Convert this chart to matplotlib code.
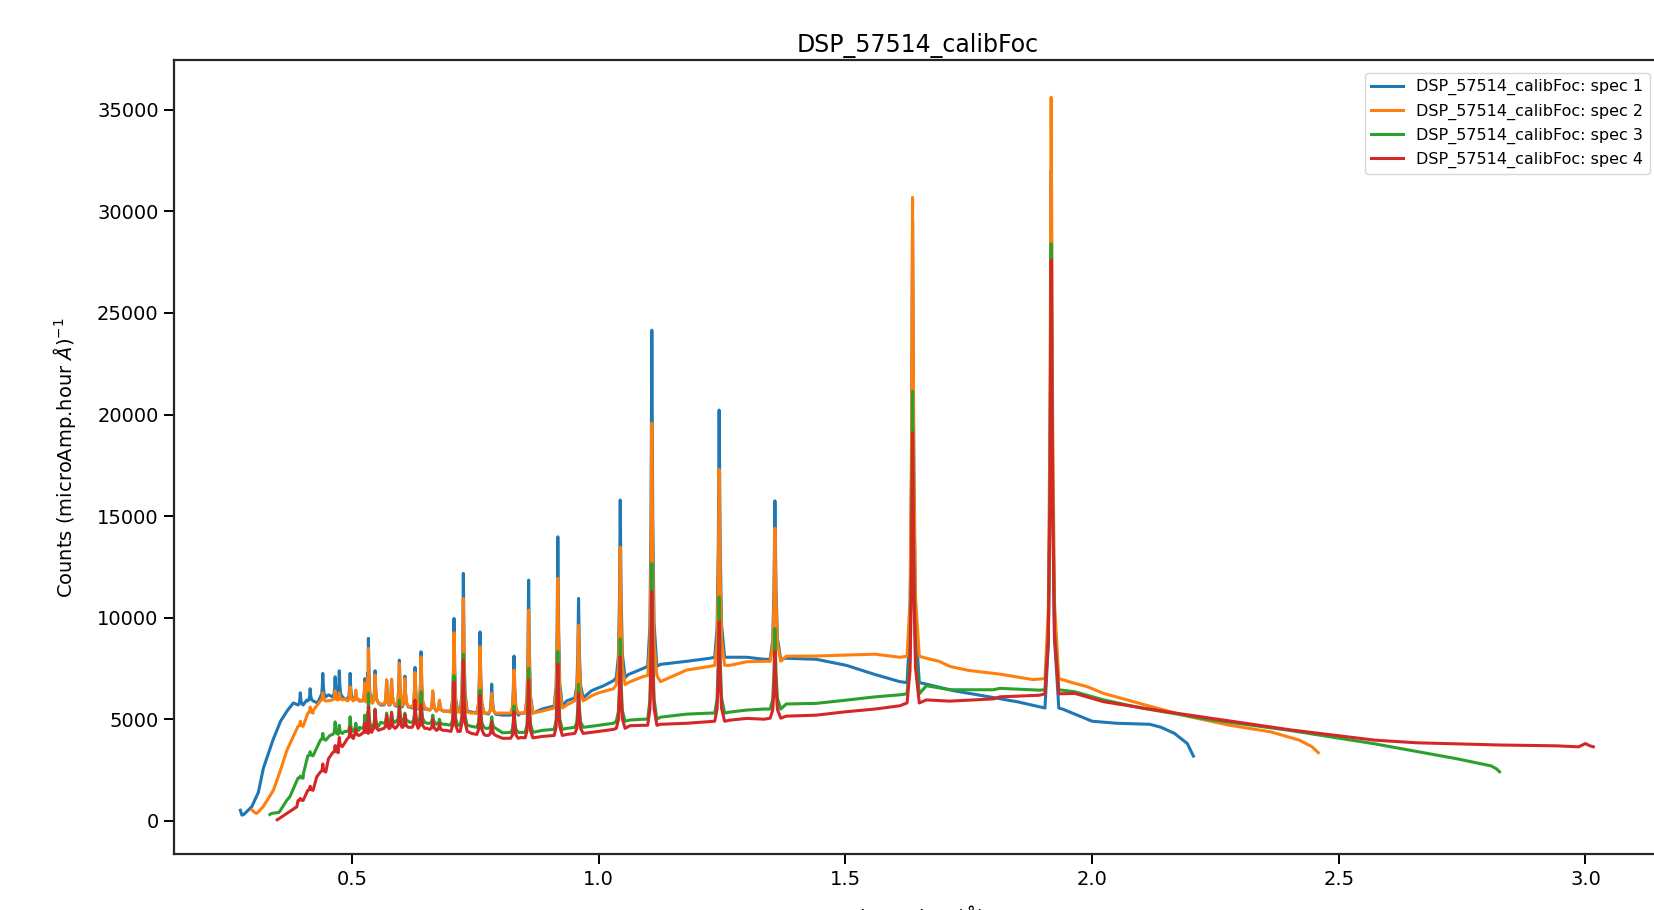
import numpy as np
import matplotlib
matplotlib.use("Agg")
import matplotlib.pyplot as plt

plt.rcParams['font.family'] = ['DejaVu Sans']
plt.rcParams['axes.linewidth'] = 1.6
plt.rcParams['axes.edgecolor'] = '.15'
plt.rcParams['xtick.major.size'] = 7.5
plt.rcParams['ytick.major.size'] = 7.5
plt.rcParams['xtick.major.width'] = 1.4
plt.rcParams['ytick.major.width'] = 1.4

# ---------------------- data ----------------------
title = "DSP_57514_calibFoc"
labels = ["DSP_57514_calibFoc: spec 1", "DSP_57514_calibFoc: spec 2",
          "DSP_57514_calibFoc: spec 3", "DSP_57514_calibFoc: spec 4"]
colors = ["#1f77b4", "#ff7f0e", "#2ca02c", "#d62728"]

# Bragg peak positions (d-spacing, Angstrom), shared by all banks
peak_d = [0.395, 0.415, 0.4406, 0.4656, 0.474, 0.496, 0.5075, 0.526, 0.533, 0.5466,
          0.570, 0.580, 0.5958, 0.607, 0.6276, 0.6398, 0.6635, 0.677, 0.7066, 0.7255,
          0.7593, 0.783, 0.8282, 0.8578, 0.9170, 0.9590, 1.0435, 1.1075, 1.2440, 1.3570,
          1.6360, 1.9170]

# spec 1 (blue)
bg1_x = [0.2735, 0.2766, 0.280, 0.2968, 0.31, 0.3203, 0.34, 0.355, 0.368, 0.381,
         0.408, 0.43, 0.452, 0.485, 0.515, 0.54, 0.558, 0.588, 0.617, 0.652, 0.69,
         0.716, 0.742, 0.771, 0.805, 0.842, 0.885, 0.935, 0.985, 1.01, 1.03, 1.06,
         1.09, 1.125, 1.178, 1.225, 1.265, 1.30, 1.335, 1.38, 1.441, 1.502, 1.56,
         1.61, 1.66, 1.72, 1.78, 1.85, 1.895, 1.94, 1.965, 2.00, 2.05, 2.117, 2.14,
         2.167, 2.193, 2.2053]
bg1_y = [520, 280, 300, 700, 1400, 2600, 4000, 4900, 5400, 5800,
         5940, 5800, 6200, 6000, 5900, 5800, 5700, 5650, 5600, 5500, 5400,
         5400, 5350, 5300, 5200, 5300, 5500, 5900, 6400, 6650, 6900, 7200,
         7500, 7700, 7850, 8000, 8050, 8050, 7950, 8000, 7950, 7650, 7200,
         6850, 6750, 6400, 6150, 5850, 5600, 5500, 5250, 4900, 4800, 4750, 4600,
         4300, 3800, 3185]
base1 = [5700, 5900, 6100, 6100, 6100, 6000, 5950, 5900, 5900, 5800,
         5700, 5700, 5650, 5600, 5550, 5500, 5450, 5400, 5400, 5400,
         5300, 5250, 5200, 5300, 5650, 6050, 7050, 7600, 8050, 7950,
         6800, 5550]
top1 = [6300, 6500, 7256, 7090, 7385, 7256, 6300, 7000, 8980, 7385,
        6930, 6960, 7910, 7120, 7550, 8320, 6300, 5900, 9960, 12180,
        9300, 6730, 8110, 11850, 13980, 10950, 15790, 24150, 20220, 15750,
        29500, 32000]

# spec 2 (orange)
bg2_x = [0.297, 0.303, 0.307, 0.32, 0.3406, 0.355, 0.368, 0.3946, 0.4216, 0.45,
         0.485, 0.515, 0.54, 0.558, 0.588, 0.617, 0.652, 0.69, 0.716, 0.742, 0.771,
         0.805, 0.842, 0.885, 0.935, 0.985, 1.00, 1.03, 1.063, 1.09, 1.125, 1.178,
         1.225, 1.265, 1.30, 1.335, 1.38, 1.441, 1.502, 1.56, 1.61, 1.625,
         1.664, 1.69, 1.7115, 1.75, 1.8128, 1.88, 1.905, 1.96, 1.99, 2.0235, 2.108,
         2.1926, 2.277, 2.3615, 2.42, 2.446, 2.4585]
bg2_y = [530, 400, 364, 700, 1510, 2500, 3480, 4630, 5450, 5900,
         6000, 5950, 5800, 5750, 5700, 5600, 5500, 5400, 5350, 5300, 5300,
         5300, 5300, 5400, 5700, 6150, 6300, 6500, 6840, 7100, 6850, 7420,
         7600, 7650, 7830, 7850, 8100, 8110, 8160, 8200, 8050, 8100,
         8000, 7850, 7600, 7400, 7220, 6950, 7000, 6800, 6600, 6270, 5700,
         5150, 4710, 4380, 3970, 3640, 3350]
base2 = [4650, 5300, 5900, 5950, 5950, 5900, 5900, 5900, 5850, 5800,
         5750, 5700, 5700, 5650, 5600, 5550, 5450, 5400, 5350, 5350,
         5300, 5300, 5300, 5300, 5550, 5900, 6700, 7150, 7650, 7850,
         8100, 7000]
top2 = [4900, 5600, 6300, 6400, 6300, 6600, 6430, 6800, 8490, 7170,
        6930, 6960, 7750, 7000, 7300, 8070, 6400, 5940, 9260, 10950,
        8570, 6270, 7420, 10370, 11930, 9620, 13460, 19570, 17300, 14390,
        30690, 35620]

# spec 3 (green)
bg3_x = [0.3333, 0.3373, 0.352, 0.368, 0.374, 0.4014, 0.42, 0.442, 0.455, 0.485,
         0.515, 0.54, 0.558, 0.588, 0.617, 0.652, 0.69, 0.716, 0.742, 0.771, 0.805,
         0.842, 0.885, 0.935, 0.985, 1.00, 1.03, 1.063, 1.09, 1.125, 1.178, 1.225,
         1.265, 1.30, 1.335, 1.38, 1.441, 1.502, 1.56, 1.61, 1.625, 1.664, 1.7115,
         1.80, 1.8128, 1.893, 1.905, 1.965, 2.0235, 2.10, 2.234, 2.40, 2.57, 2.74,
         2.809, 2.82, 2.8258]
bg3_y = [310, 364, 415, 1020, 1190, 2330, 3300, 3970, 4200, 4400,
         4600, 4800, 4850, 4900, 4850, 4800, 4750, 4700, 4650, 4550, 4330,
         4350, 4450, 4550, 4650, 4700, 4800, 4960, 5000, 5100, 5250, 5300,
         5350, 5450, 5500, 5750, 5780, 5940, 6100, 6200, 6300, 6650, 6450,
         6450, 6520, 6430, 6500, 6350, 5950, 5550, 5000, 4450, 3800, 3050,
         2700, 2550, 2410]
base3 = [2100, 3200, 3970, 4250, 4300, 4400, 4450, 4550, 4600, 4650,
         4800, 4850, 4900, 4900, 4850, 4850, 4800, 4750, 4700, 4700,
         4600, 4550, 4350, 4350, 4500, 4600, 4900, 5000, 5300, 5500,
         6250, 6450]
top3 = [2200, 3400, 4300, 4870, 4700, 5120, 4800, 5200, 6270, 5500,
        5300, 5350, 5940, 5300, 5730, 6350, 5200, 5000, 7150, 8200,
        6430, 5120, 5650, 7500, 8340, 6720, 8950, 12670, 11020, 9460,
        21150, 28400]

# spec 4 (red)
bg4_x = [0.3483, 0.3527, 0.37, 0.388, 0.41, 0.4285, 0.452, 0.462, 0.48, 0.49,
         0.516, 0.54, 0.558, 0.588, 0.617, 0.652, 0.69, 0.716, 0.742, 0.771, 0.805,
         0.842, 0.885, 0.935, 0.985, 1.00, 1.03, 1.063, 1.09, 1.125, 1.178, 1.225,
         1.265, 1.30, 1.335, 1.38, 1.441, 1.502, 1.56, 1.61, 1.625, 1.664, 1.7115,
         1.80, 1.8128, 1.893, 1.905, 1.965, 2.0235, 2.15, 2.277, 2.4035, 2.5725,
         2.657, 2.8258, 2.94, 2.986, 3.0, 3.008, 3.016]
bg4_y = [50, 118, 400, 690, 1400, 2170, 3050, 3480, 3900, 4050,
         4220, 4450, 4500, 4600, 4600, 4550, 4450, 4400, 4300, 4200, 4060,
         4100, 4150, 4250, 4350, 4400, 4500, 4680, 4700, 4750, 4800, 4880,
         4950, 5040, 5000, 5150, 5200, 5370, 5500, 5660, 5750, 5950, 5890,
         6000, 6100, 6180, 6250, 6270, 5860, 5370, 4920, 4470, 3970,
         3840, 3730, 3690, 3640, 3800, 3700, 3640]
base4 = [1000, 1500, 2400, 3350, 3650, 4050, 4200, 4300, 4350, 4450,
         4550, 4550, 4600, 4600, 4600, 4550, 4500, 4450, 4400, 4400,
         4250, 4200, 4060, 4080, 4200, 4300, 4550, 4700, 4900, 5050,
         5800, 6250]
top4 = [1100, 1700, 2800, 3700, 4100, 4600, 4500, 4800, 5610, 5450,
        5200, 5300, 5610, 5200, 5940, 5700, 5000, 4800, 6840, 7910,
        6190, 4870, 5370, 6930, 7720, 6270, 8070, 11290, 9800, 8340,
        19100, 27600]

xticks = [0.5, 1.0, 1.5, 2.0, 2.5, 3.0]
yticks = [0, 5000, 10000, 15000, 20000, 25000, 30000, 35000]


# ---------------------- build one spectrum line ----------------------
def build_spectrum(bg_x, bg_y, base, top):
    """background points + narrow spikes at the peak positions"""
    d = np.array(peak_d)
    hw = 0.002 + 0.004 * d          # peak half width grows with d
    offs = [-1.3, -0.6, -0.25, 0.0, 0.3, 0.7, 1.6]
    fracs = [0.0, 0.12, 0.45, 1.0, 0.45, 0.13, 0.0]

    bx = np.array(bg_x, dtype=float)
    by = np.array(bg_y, dtype=float)
    keep = np.ones(len(bx), dtype=bool)
    for c, h in zip(d, hw):
        keep &= np.abs(bx - c) > 1.7 * h
    xs, ys = list(bx[keep]), list(by[keep])

    for c, h, b, t in zip(d, hw, base, top):
        if c < bx.min() or c > bx.max() or t <= b:
            continue
        for o, f in zip(offs, fracs):
            xs.append(c + o * h)
            ys.append(b + f * (t - b))
    xs, ys = np.array(xs), np.array(ys)
    order = np.argsort(xs)
    return xs[order], ys[order]


spectra = [(bg1_x, bg1_y, base1, top1), (bg2_x, bg2_y, base2, top2),
           (bg3_x, bg3_y, base3, top3), (bg4_x, bg4_y, base4, top4)]

# ---------------------- plot ----------------------
fig = plt.figure(figsize=(16.54, 9.10), dpi=100)
ax = fig.add_axes([0.1052, 0.061, 0.8996, 0.873])

for (bx, by, b, t), lab, col in zip(spectra, labels, colors):
    x, y = build_spectrum(bx, by, b, t)
    ax.plot(x, y, color=col, lw=2.2, label=lab)

ax.set_xlim(0.139, 3.155)
ax.set_ylim(-1660, 37450)
ax.set_xticks(xticks)
ax.set_yticks(yticks)
ax.tick_params(labelsize=14)
ax.set_title(title, fontsize=17)
ax.set_ylabel(r'Counts (microAmp.hour $\AA$)$^{-1}$', fontsize=14, labelpad=14)
ax.set_xlabel(r'd-Spacing ($\AA$)', fontsize=14, labelpad=10)
ax.legend(loc='upper right', fontsize=11.5, bbox_to_anchor=(0.995, 0.99),
          borderaxespad=0.3)

fig.savefig("out.png", dpi=100)
